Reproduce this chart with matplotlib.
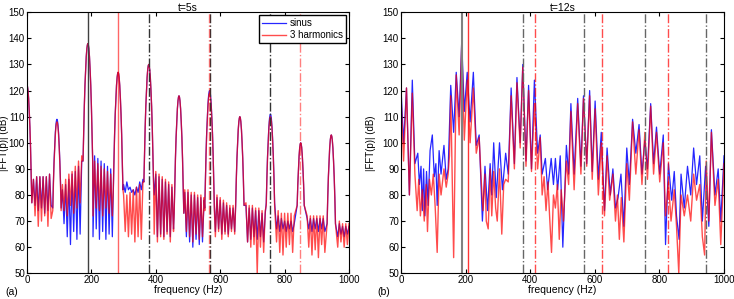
import numpy as np
import matplotlib
matplotlib.use('Agg')
import matplotlib.pyplot as plt

plt.rcParams['font.family'] = ['Liberation Sans', 'DejaVu Sans']

nan = np.nan

# ---- left panel (t=5s): comb floor on a 5 Hz grid, nan where a peak sits ----
left_grid = np.arange(0, 1001, 5)

left_red_floor = [
    nan, nan, 86, 70, 86, 72, 87, 68, 87, 70, 87, 72, 87, 68, 88, 71, 88, nan, nan, nan,
    nan, 86, 84, 74, 86, 72, 88, 76, 89, 73, 91, 75, 93, 77, 95, 78, 96, nan, nan, nan,
    94, 72, 93, 75, 92, 74, 91, 72, 90, 75, 89, 73, 88, 72, 87, nan, nan, nan, nan, 78,
    80, 66, 80, 64, 81, 65, 82, 62, 83, 64, 84, 63, 85, 66, nan, nan, nan, nan, 88, 65,
    89, 62, 88, 64, 87, 63, 86, 65, 85, 62, 84, 66, 83, nan, nan, nan, nan, 66, 82, 66,
    82, 64, 81, 62, 81, 65, 80, 63, 80, 64, 79, 62, nan, nan, nan, nan, 81, 64, 80, 66,
    79, 63, 78, 65, 77, 64, 76, 66, 76, 65, 75, nan, nan, nan, 78, 64, 77, 62, 76, 60,
    76, 61, 75, 50, 75, 60, 74, 58, 74, 62, nan, nan, nan, 60, 74, 62, 74, 58, 73, 57,
    73, 60, 73, 61, 73, 58, 72, 50, 72, nan, nan, nan, 72, 55, 72, 60, 72, 57, 72, 59,
    72, 56, 72, 61, 72, 58, 71, 60, nan, nan, nan, 50, 70, 60, 70, 62, 69, 60, 69, 61,
    69,
]

left_blue_floor = [
    nan, nan, 86, 75, 86, 76, 87, 74, 87, 75, 87, 73, 87, 74, 88, 76, 88, nan, nan, nan,
    nan, 86, 82, 69, 84, 64, 86, 61, 88, 66, 89, 63, 91, 65, 93, 63, 95, nan, nan, nan,
    96, 64, 95, 67, 94, 63, 93, 66, 92, 63, 91, 65, 90, 64, 89, nan, nan, nan, nan, 81,
    84, 81, 85, 82, 83, 81, 82, 80, 83, 81, 85, 82, 86, 83, nan, nan, nan, nan, 86, 80,
    88, 64, 87, 65, 86, 64, 85, 66, 84, 64, 83, 67, 82, nan, nan, nan, nan, 68, 81, 64,
    81, 62, 80, 60, 80, 63, 79, 61, 79, 62, 78, 55, nan, nan, nan, nan, 80, 66, 79, 67,
    78, 65, 77, 66, 76, 65, 75, 67, 75, 66, 74, nan, nan, nan, 76, 64, 76, 62, 75, 63,
    75, 64, 74, 63, 74, 64, 73, 62, 73, 65, nan, nan, nan, 66, 73, 67, 72, 66, 71, 67,
    70, 66, 70, 67, 70, 66, 69, 67, 70, nan, nan, nan, 71, 66, 71, 67, 71, 66, 71, 67,
    71, 66, 71, 67, 71, 66, 70, 66, nan, nan, nan, 63, 69, 64, 69, 65, 68, 64, 68, 65,
    68,
]

left_peak_f = [0, 93, 189, 283, 378, 472, 567, 661, 756, 850, 945]
left_blue_peak_db = [122, 109, 138, 127, 130, 118, 120, 110, 111, 100, 103]
left_red_peak_db = [122, 108, 138, 127, 130, 118, 119, 110, 110, 100, 103]

# main-lobe shape (Hz offset, dB below the top)
lobe_offset = [-15, -13, -11, -9, -7, -5, -3, -1.5, 0, 1.5, 3, 5, 7, 9, 11, 13, 15]
lobe_drop = [45, 34, 24, 16, 10, 5, 1.8, 0.5, 0, 0.5, 1.8, 5, 10, 16, 24, 34, 45]

# ---- right panel (t=12s): lobe tops and dips ----
right_blue_f = [0, 8, 17, 26, 35, 43, 52, 57, 62, 66, 70, 74, 79, 84, 90, 97, 103, 108, 112, 118,
                124, 133, 140, 146, 154, 163, 171, 180, 188, 196, 205, 214, 224, 233, 242, 252, 260,
                268, 276, 281, 287, 295, 305, 314, 324, 332, 341, 351, 359, 369, 377, 387, 395, 404,
                413, 423, 431, 437, 447, 454, 465, 472, 478, 485, 493, 501, 512, 519, 526, 536, 547,
                557, 565, 575, 584, 592, 601, 611, 620, 630, 638, 648, 656, 664, 672, 681, 690, 699,
                707, 717, 727, 737, 746, 755, 763, 773, 782, 791, 801, 812, 819, 828, 838, 846, 853,
                861, 867, 877, 887, 897, 906, 915, 925, 933, 943, 953, 961, 972, 982, 990, 1000]
right_blue_db = [121, 100, 121, 80, 124, 92, 96, 84, 91, 74, 90, 72, 89, 76, 97, 103, 87, 92, 76, 97,
                 88, 99, 86, 90, 122, 104, 127, 110, 139, 112, 127, 108, 127, 99, 103, 70, 91,
                 74, 92, 80, 100, 79, 100, 82, 96, 88, 121, 92, 125, 100, 130, 93, 122, 90,
                 124, 96, 103, 88, 94, 82, 94, 84, 94, 82, 95, 60, 99, 88, 115, 88, 117,
                 91, 118, 92, 120, 89, 116, 86, 104, 74, 98, 80, 90, 75, 79, 88, 68, 98,
                 84, 109, 96, 107, 88, 101, 90, 115, 92, 106, 88, 103, 61, 92, 78, 89, 72,
                 63, 88, 75, 91, 80, 98, 84, 95, 70, 91, 68, 105, 80, 90, 70, 95]

right_red_f = [0, 8, 17, 26, 35, 43, 50, 55, 60, 66, 72, 78, 82, 88, 94, 100, 106, 112, 118, 124,
               133, 140, 146, 150, 154, 163, 171, 180, 188, 196, 205, 214, 224, 233, 242, 249, 254,
               260, 264, 270, 276, 281, 287, 293, 298, 305, 312, 318, 324, 332, 341, 351, 359, 369,
               377, 387, 395, 404, 413, 423, 431, 437, 443, 449, 455, 460, 466, 472, 478, 484, 490,
               496, 503, 512, 519, 526, 536, 547, 557, 565, 575, 584, 592, 601, 611, 620, 630, 638,
               646, 656, 664, 670, 676, 682, 690, 699, 707, 717, 727, 737, 746, 755, 763, 773, 782,
               791, 801, 812, 819, 828, 836, 846, 853, 860, 867, 877, 887, 897, 906, 915, 925, 933,
               940, 945, 953, 961, 972, 982, 990, 1000]
right_red_db = [118, 93, 121, 80, 119, 88, 74, 86, 72, 82, 70, 84, 66, 86, 80, 88, 75, 58, 88, 80,
                90, 83, 88, 95, 118, 56, 126, 103, 138, 101, 124, 100, 121, 96, 102, 84, 74,
                88, 70, 67, 90, 72, 89, 75, 70, 90, 65, 84, 86, 85, 118, 90, 123, 98,
                129, 91, 120, 89, 115, 90, 102, 80, 87, 74, 85, 72, 58, 80, 75, 84, 63,
                82, 70, 93, 84, 112, 82, 115, 88, 117, 91, 118, 86, 113, 80, 100, 72, 95,
                78, 88, 70, 80, 63, 79, 62, 92, 78, 108, 88, 105, 84, 104, 86, 114, 88,
                104, 85, 100, 72, 85, 70, 82, 68, 50, 80, 72, 80, 70, 88, 78, 84, 64,
                57, 93, 70, 104, 76, 86, 61, 92]

# reference frequencies (fundamental and harmonics)
left_black_solid, left_red_solid = 189, 283
left_black_dash = [378, 567, 756]
left_red_dash = [566, 849]
right_black_solid, right_red_solid = 189, 207
right_black_dash = [378, 567, 756, 945]
right_red_dash = [414, 621, 828]


def build_spectrum(grid, floor, peak_f, peak_db):
    floor = np.asarray(floor, float)
    keep = ~np.isnan(floor)
    for pf in peak_f:
        keep &= np.abs(grid - pf) > 15.5
    f = list(grid[keep])
    d = list(floor[keep])
    for pf, pd in zip(peak_f, peak_db):
        for off, drop in zip(lobe_offset, lobe_drop):
            # lobe only down to where it meets the comb floor
            if pf + off >= 0 and pd - drop >= 68:
                f.append(pf + off)
                d.append(pd - drop)
    order = np.argsort(f, kind='stable')
    return np.array(f)[order], np.array(d)[order]


def style_axes(ax, title):
    ax.set_xlim(0, 1000)
    ax.set_ylim(50, 150)
    ax.set_xticks(range(0, 1001, 200))
    ax.set_yticks(range(50, 151, 10))
    ax.tick_params(direction='in', top=True, right=True, length=3, labelsize=7, pad=1.5)
    for s in ax.spines.values():
        s.set_linewidth(0.8)
    ax.set_title(title, fontsize=7.5, pad=1)
    ax.set_xlabel('frequency (Hz)', fontsize=7.5, labelpad=0)
    ax.set_ylabel('|FFT(p)| (dB)', fontsize=7)


fig = plt.figure(figsize=(7.34, 2.99), dpi=100)
ax1 = fig.add_axes([27 / 734, 0.086, 322 / 734, 0.873])
ax2 = fig.add_axes([401 / 734, 0.086, 323 / 734, 0.873])

blue = (0, 0, 1)
red = (1, 0, 0)

# left panel
bf, bd = build_spectrum(left_grid, left_blue_floor, left_peak_f, left_blue_peak_db)
rf, rd = build_spectrum(left_grid, left_red_floor, left_peak_f, left_red_peak_db)
ax1.plot(bf, bd, color=blue, lw=0.9, alpha=0.85, label='sinus')
ax1.plot(rf, rd, color=red, lw=1.0, alpha=0.7, label='3 harmonics')
ax1.axvline(left_black_solid, color='0.25', lw=1)
ax1.axvline(left_red_solid, color=red, lw=1, alpha=0.6)
for x in left_black_dash:
    ax1.axvline(x, color='0.2', lw=1, ls='-.')
for x in left_red_dash:
    ax1.axvline(x, color=red, lw=1, ls='-.', alpha=0.5)
style_axes(ax1, 't=5s')
ax1.yaxis.set_label_coords(-0.056, 0.5)
leg = ax1.legend(loc='upper right', fontsize=7, fancybox=False, framealpha=1,
                 edgecolor='black', borderaxespad=0.3, handlelength=2.5,
                 borderpad=0.3, labelspacing=0.2, handletextpad=0.4)
leg.get_frame().set_linewidth(1.0)

# right panel
ax2.plot(right_blue_f, right_blue_db, color=blue, lw=0.9, alpha=0.85)
ax2.plot(right_red_f, right_red_db, color=red, lw=1.0, alpha=0.7)
ax2.axvline(right_black_solid, color='0.5', lw=1.5)
ax2.axvline(right_red_solid, color=red, lw=1, alpha=0.8)
for x in right_black_dash:
    ax2.axvline(x, color='0.4', lw=1, ls='-.')
for x in right_red_dash:
    ax2.axvline(x, color=red, lw=1, ls='-.', alpha=0.7)
style_axes(ax2, 't=12s')
ax2.yaxis.set_label_coords(-0.078, 0.5)

fig.text(5 / 734, 1 - 292 / 299, '(a)', fontsize=7.5, va='center')
fig.text(377 / 734, 1 - 292 / 299, '(b)', fontsize=7.5, va='center')

fig.savefig('out.png', dpi=100)
